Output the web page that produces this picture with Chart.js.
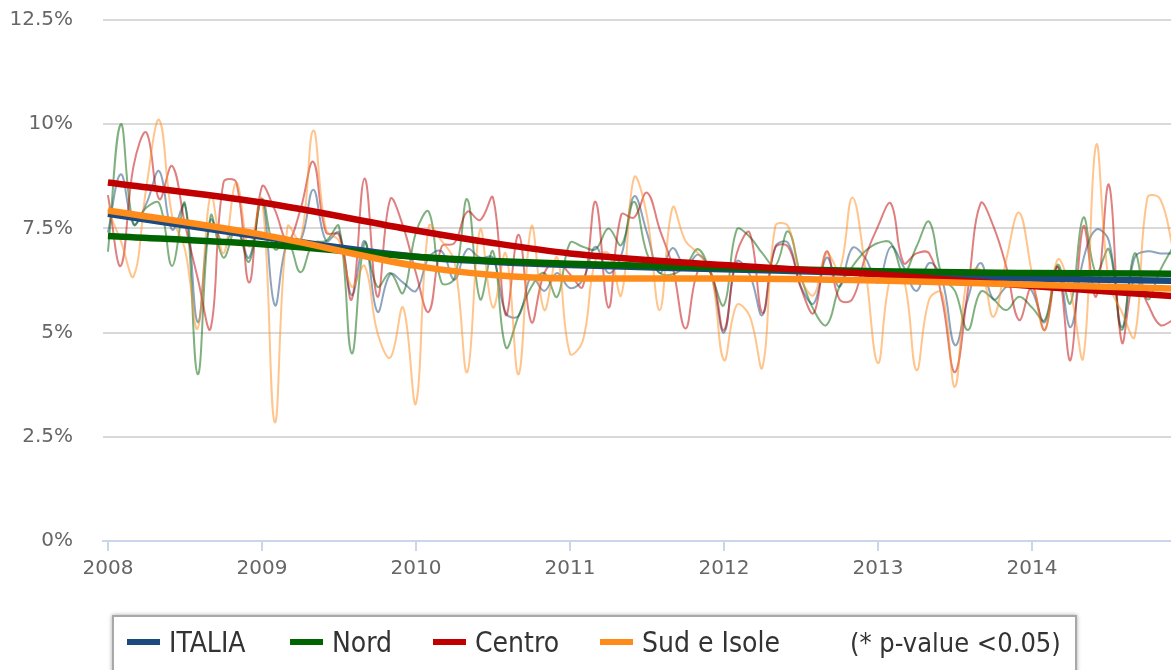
<!DOCTYPE html>
<html>
<head>
<meta charset="utf-8">
<script src="https://cdn.jsdelivr.net/npm/chart.js@4.4.1/dist/chart.umd.min.js"></script>
<style>
  body { margin: 0; background: #fff; }
  #wrap { position: relative; width: 1171px; height: 670px; overflow: hidden; }
  #legend {
    position: absolute; left: 112px; top: 615px; width: 961px; height: 80px;
    border: 2px solid #a8a8a8; box-shadow: 0 0 4px rgba(0,0,0,0.35);
    font-family: "DejaVu Sans Condensed", "DejaVu Sans", sans-serif; font-size: 28px; color: #333;
  }
  .item { position: absolute; top: 9px; white-space: nowrap; }
  .sym { display: inline-block; width: 33px; height: 6px; vertical-align: middle; margin-right: 9px; position: relative; top: -2px; }
</style>
</head>
<body>
<div id="wrap">
  <canvas id="chart"></canvas>
  <div id="legend">
    <span class="item" style="left:13px"><span class="sym" style="background:#1b4a7e"></span>ITALIA</span>
    <span class="item" style="left:176px"><span class="sym" style="background:#006400"></span>Nord</span>
    <span class="item" style="left:319px"><span class="sym" style="background:#c00000"></span>Centro</span>
    <span class="item" style="left:486px"><span class="sym" style="background:#ff8c1a"></span>Sud e Isole</span>
    <span class="item" style="left:736px; font-size:27px; top:10px">(* p-value &lt;0.05)</span>
  </div>
</div>
<script>
// monthly values, Jan 2008 onwards (%)
const startYear = 2008;
const yearTicks = [2008, 2009, 2010, 2011, 2012, 2013, 2014];
const yTicks = [0, 2.5, 5, 7.5, 10, 12.5];

const italia = [7.4,8.8,7.6,8.1,8.87,7.47,8.07,5.25,7.7,7.15,7.5,6.8,
  8.2,5.66,7.2,7.2,8.43,7.2,7.4,5.9,7.2,5.5,6.4,6.2,
  6.0,6.8,6.95,6.27,7.0,6.8,6.8,5.47,5.4,6.35,6.0,6.43,
  6.07,6.27,7.06,6.43,6.85,8.27,7.4,6.43,7.03,6.58,6.87,6.4,
  5.0,6.7,6.4,5.42,7.06,7.15,6.1,5.7,6.8,6.1,7.03,6.8,
  6.2,7.06,6.58,6.0,6.67,6.27,4.7,5.8,6.67,5.8,6.1,6.3,
  6.0,5.25,6.58,5.13,6.75,7.47,7.2,5.13,6.8,6.95,6.9,6.9];
const nord = [6.94,10.0,7.6,8.0,8.1,6.6,8.1,4.0,7.8,6.8,7.5,6.7,
  8.2,7.0,7.2,6.45,7.15,7.2,7.55,4.5,7.15,6.1,6.43,5.95,
  7.4,7.9,6.2,6.3,8.2,5.8,6.95,4.65,5.4,6.1,6.43,5.86,
  7.15,7.06,7.0,7.5,7.1,8.14,6.9,6.43,6.4,6.6,7.0,6.4,
  5.66,7.47,7.3,6.9,6.6,7.43,6.35,5.54,5.18,6.1,6.58,6.95,
  7.15,7.15,6.43,7.06,7.66,6.35,6.0,5.06,5.98,5.8,5.54,5.86,
  5.6,5.3,6.63,5.7,7.76,6.43,7.0,5.06,6.9,5.8,6.5,7.06];
const centro = [8.3,6.6,9.0,9.8,8.2,9.0,7.6,6.3,5.1,8.6,8.6,6.2,
  8.5,7.95,7.2,7.95,9.1,7.4,7.35,5.8,8.7,5.86,8.2,7.55,
  6.43,5.5,7.06,7.15,7.9,7.7,8.24,5.42,7.35,5.25,6.43,6.7,
  6.4,6.1,8.14,5.6,7.83,7.76,8.36,7.47,6.58,5.1,6.5,6.43,
  5.06,6.9,7.4,5.47,7.03,7.06,6.07,5.47,6.95,5.8,5.8,6.8,
  7.55,8.1,6.67,6.9,6.9,5.8,4.05,6.0,8.1,7.55,6.58,5.3,
  6.1,5.06,6.58,4.34,7.55,5.86,8.55,4.77,6.3,5.7,5.18,5.3];
const sud = [7.95,7.2,6.35,8.5,10.1,7.8,7.0,5.1,8.3,6.9,8.6,7.06,
  8.2,2.85,7.55,7.2,9.85,7.47,7.2,6.1,6.6,5.0,4.4,5.6,
  3.3,7.55,7.2,6.7,4.05,7.47,5.6,6.9,4.0,7.55,5.54,6.8,
  4.5,4.8,6.75,6.9,5.9,8.72,7.8,5.54,8.0,7.2,6.9,6.43,
  4.34,5.66,5.4,4.17,7.55,7.55,6.3,5.9,6.9,6.5,8.24,6.58,
  4.27,6.35,6.3,4.1,5.8,5.95,3.7,6.4,6.5,5.38,6.75,7.88,
  6.43,5.06,6.75,6.0,4.4,9.5,6.2,5.5,4.9,8.24,8.2,7.0];

// smoothed trends
const trendX = [2008, 2009, 2010, 2010.5, 2011, 2012, 2013, 2014, 2015];
const italiaTrend = [7.85, 7.3, 6.82, 6.7, 6.62, 6.52, 6.42, 6.3, 6.24];
const nordTrend   = [7.32, 7.12, 6.82, 6.72, 6.65, 6.56, 6.47, 6.43, 6.41];
const centroTrend = [8.6, 8.12, 7.45, 7.15, 6.9, 6.62, 6.4, 6.12, 5.85];
const sudTrend    = [7.93, 7.35, 6.6, 6.38, 6.3, 6.3, 6.25, 6.15, 6.05];

const colors = { italia: '#1b4a7e', nord: '#006400', centro: '#c00000', sud: '#ff8c1a' };
const thinAlpha = { italia: 'rgba(27,74,126,0.5)', nord: 'rgba(0,100,0,0.5)', centro: 'rgba(192,0,0,0.5)', sud: 'rgba(255,140,26,0.5)' };

const monthly = vals => vals.map((v, i) => ({ x: startYear + i / 12, y: v }));
const trend = vals => vals.map((v, i) => ({ x: trendX[i], y: v }));

function thin(label, vals, key, order) {
  return { label, data: monthly(vals), borderColor: thinAlpha[key], borderWidth: 2, tension: 0.4, pointRadius: 0, order };
}
function thick(label, vals, key, order) {
  return { label, data: trend(vals), borderColor: colors[key], borderWidth: 6.5, cubicInterpolationMode: 'monotone', pointRadius: 0, order };
}

new Chart(document.getElementById('chart'), {
  type: 'line',
  data: {
    datasets: [
      thick('Sud e Isole', sudTrend, 'sud', 0),
      thick('Centro', centroTrend, 'centro', 1),
      thick('Nord', nordTrend, 'nord', 2),
      thick('ITALIA', italiaTrend, 'italia', 3),
      thin('Sud e Isole', sud, 'sud', 4),
      thin('Centro', centro, 'centro', 5),
      thin('Nord', nord, 'nord', 6),
      thin('ITALIA', italia, 'italia', 7)
    ]
  },
  options: {
    responsive: true, maintainAspectRatio: false, animation: false,
    layout: { padding: { top: 20, right: 0, left: 0, bottom: 0 } },
    plugins: { legend: { display: false }, tooltip: { enabled: false } },
    scales: {
      x: {
        type: 'linear', min: 2007.968, max: 2014.903,
        afterBuildTicks: s => { s.ticks = yearTicks.map(v => ({ value: v })); },
        afterFit: s => { s.height = 129; s.paddingLeft = 0; s.paddingRight = 0; },
        grid: { drawOnChartArea: false, drawTicks: true, tickLength: 10, color: '#ccd6eb', lineWidth: 2 },
        border: { color: '#ccd6eb', width: 2 },
        ticks: { color: '#666', font: { family: 'DejaVu Sans', size: 20 }, padding: 6, maxRotation: 0, callback: v => String(v) }
      },
      y: {
        min: 0, max: 12.5,
        afterBuildTicks: s => { s.ticks = yTicks.map(v => ({ value: v })); },
        afterFit: s => { s.width = 103; s.paddingTop = 0; s.paddingBottom = 0; },
        grid: { color: '#d9d9d9', lineWidth: 2, drawTicks: false },
        border: { display: false },
        ticks: { color: '#666', font: { family: 'DejaVu Sans', size: 20 }, padding: 30, callback: v => v + '%' }
      }
    }
  }
});
</script>
</body>
</html>
